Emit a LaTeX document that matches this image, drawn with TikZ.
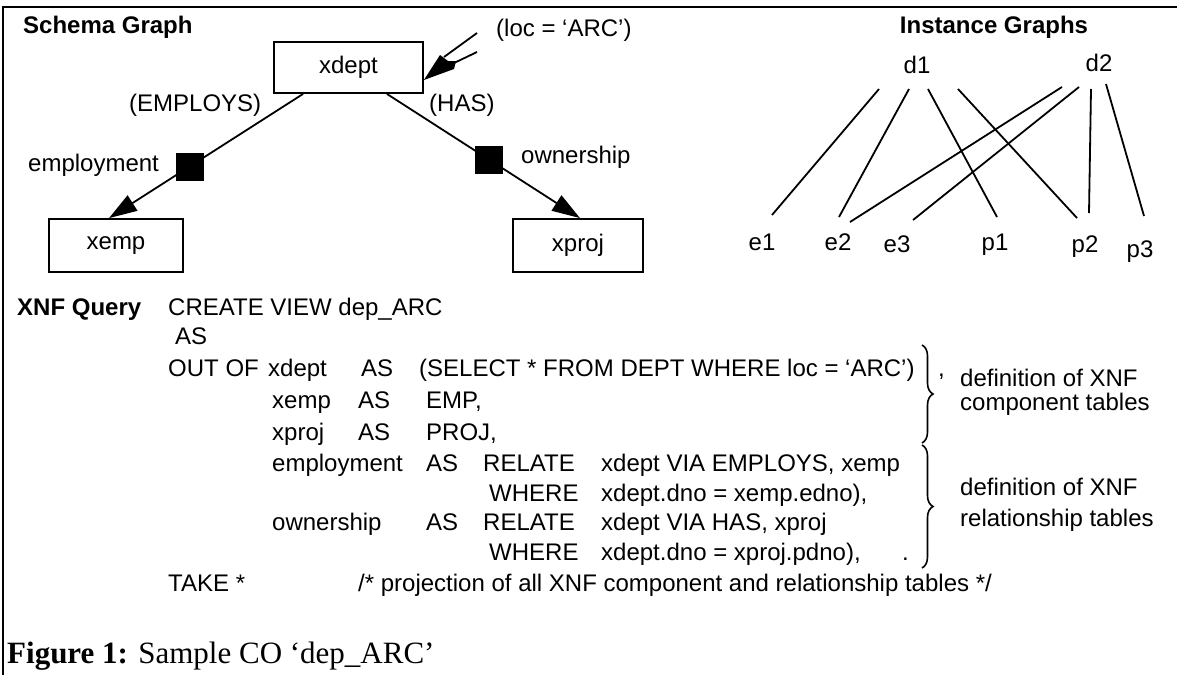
\documentclass[tikz,border=0pt]{standalone}
\usepackage{fontspec}
\setmainfont{Liberation Sans}
\newfontfamily\capfont{Liberation Serif}
\usetikzlibrary{arrows.meta,calc,decorations.pathreplacing}
\begin{document}
\begin{tikzpicture}[x=1pt,y=-1pt,
  txt/.style={anchor=base west, inner sep=0pt, font=\fontsize{24}{28}\selectfont},
  btxt/.style={txt, font=\fontsize{24}{28}\selectfont\bfseries},
  inst/.style={anchor=base, inner sep=0pt, font=\fontsize{24}{28}\selectfont},
  ent/.style={draw, line width=1.8pt, inner sep=0pt, font=\fontsize{24}{28}\selectfont},
  rel/.style={fill=black, minimum size=28pt, inner sep=0pt},
  edge/.style={line width=1.8pt},
  arr/.style={edge, -{Triangle[length=28pt,width=18pt]}},
  iedge/.style={line width=1.8pt},
  brc/.style={decorate, decoration={brace, amplitude=11pt}, line width=1.6pt}]
\useasboundingbox (0,0) rectangle (1177,675);
% frame
\draw[line width=2.5pt] (3,675) -- (3,7) -- (1177,7);

% ---------- schema graph ----------
\node[btxt] (sg) at (23,33) {Schema Graph};
\node[ent, minimum width=149pt, minimum height=51pt] (xdept) at (348.5,67.5) {xdept};
\node[ent, minimum width=134pt, minimum height=53pt] (xemp) at (116,245.5) {xemp};
\node[ent, minimum width=130pt, minimum height=53pt] (xproj) at (578,245.5) {xproj};

\coordinate (es) at ($(xdept.south west)+(30,0)$);
\coordinate (ee) at ($(xemp.north)+(-7,0)$);
\coordinate (os) at ($(xdept.south east)+(-37,0)$);
\coordinate (oe) at ($(xproj.north)+(2,0)$);
\draw[arr] (es) -- (ee);
\draw[arr] (os) -- (oe);
\node[rel] (employment) at ($(es)!0.585!(ee)$) {};
\node[rel] (ownership) at ($(os)!0.53!(oe)$) {};

\node[txt] (employs) at (129,111) {(EMPLOYS)};
\node[txt] (has) at (429,111) {(HAS)};
\node[txt] (emplabel) at (28,171) {employment};
\node[txt] (ownlabel) at (521,163) {ownership};
\node[txt] (loc) at (496,36) {(loc = ‘ARC’)};

% selection arrow into xdept
\coordinate (la) at (477,33);
\coordinate (lb) at (477,52);
\coordinate (ltip) at ($(xdept.east)+(0,12.5)$);
\draw[edge] (la) -- (444,57);
\draw[edge] (lb) -- (452,64);
\fill (ltip) -- (440,55) -- (448,61) -- (456,61) -- (454,69) -- cycle;

% ---------- instance graphs ----------
\node[btxt, anchor=base] (ig) at (994,33) {Instance Graphs};
\node[inst] (d1) at (917,73) {d1};
\node[inst] (d2) at (1099,71) {d2};
\node[inst] (e1) at (762,250) {e1};
\node[inst] (e2) at (838,250) {e2};
\node[inst] (e3) at (897,252) {e3};
\node[inst] (p1) at (995,250) {p1};
\node[inst] (p2) at (1085,252) {p2};
\node[inst] (p3) at (1140,257) {p3};

\draw[iedge] ($(d1.base)+(-38,16)$) -- ($(e1.base)+(10,-35)$);
\draw[iedge] ($(d1.base)+(-8,16)$) -- ($(e2.base)+(1,-33)$);
\draw[iedge] ($(d1.base)+(11,16)$) -- ($(p1.base)+(2,-33)$);
\draw[iedge] ($(d1.base)+(41,16)$) -- ($(p2.base)+(-8,-34)$);
\draw[iedge] ($(d2.base)+(-37,16)$) -- ($(e2.base)+(12,-28)$);
\draw[iedge] ($(d2.base)+(-20,16)$) -- ($(e3.base)+(16,-32)$);
\draw[iedge] ($(d2.base)+(-8,18)$) -- ($(p2.base)+(4,-39)$);
\draw[iedge] ($(d2.base)+(7,13)$) -- ($(p3.base)+(4,-41)$);

% ---------- XNF query ----------
\node[btxt] (xq) at (17,315) {XNF Query};
\node[txt] (q1) at (168,315) {CREATE VIEW dep\_ARC};
\node[txt] (q2) at (175,344) {AS};
\node[txt] (q3a) at (168,376) {OUT OF};
\node[txt] (q3b) at (268,376) {xdept};
\node[txt] (q3c) at (361,376) {AS};
\node[txt] (q3d) at (419,376) {(SELECT * FROM DEPT WHERE loc = ‘ARC’)};
\node[txt] (q3e) at (938,376) {,};
\node[txt] (q4a) at (272,408) {xemp};
\node[txt] (q4b) at (358,408) {AS};
\node[txt] (q4c) at (426,408) {EMP,};
\node[txt] (q5a) at (272,440) {xproj};
\node[txt] (q5b) at (358,440) {AS};
\node[txt] (q5c) at (426,440) {PROJ,};
\node[txt] (q6a) at (272,471) {employment};
\node[txt] (q6b) at (426,471) {AS};
\node[txt] (q6c) at (483,471) {RELATE};
\node[txt] (q6d) at (601,471) {xdept VIA EMPLOYS, xemp};
\node[txt] (q7a) at (489,501) {WHERE};
\node[txt] (q7b) at (601,501) {xdept.dno = xemp.edno),};
\node[txt] (q8a) at (272,530) {ownership};
\node[txt] (q8b) at (426,530) {AS};
\node[txt] (q8c) at (483,530) {RELATE};
\node[txt] (q8d) at (601,530) {xdept VIA HAS, xproj};
\node[txt] (q9a) at (489,560) {WHERE};
\node[txt] (q9b) at (601,560) {xdept.dno = xproj.pdno),};
\node[txt] (q9c) at (902,560) {.};
\node[txt] (q10a) at (168,591) {TAKE *};
\node[txt] (q10b) at (358,591) {/* projection of all XNF component and relationship tables */};

% braces
\coordinate (b1t) at (922,345);
\coordinate (b1b) at (922,443);
\coordinate (b2t) at (922,445);
\coordinate (b2b) at (922,568);
\draw[brc] (b1t) -- (b1b);
\draw[brc] (b2t) -- (b2b);
\node[txt] (c1a) at (960,386) {definition of XNF};
\node[txt] (c1b) at (960,410) {component tables};
\node[txt] (c2a) at (960,495) {definition of XNF};
\node[txt] (c2b) at (960,526) {relationship tables};

% caption
\node[anchor=base west, inner sep=0pt, font=\capfont\fontsize{31}{36}\selectfont] (cap) at (7,663) {\textbf{Figure 1:} Sample CO ‘dep\_ARC’};
\end{tikzpicture}
\end{document}
